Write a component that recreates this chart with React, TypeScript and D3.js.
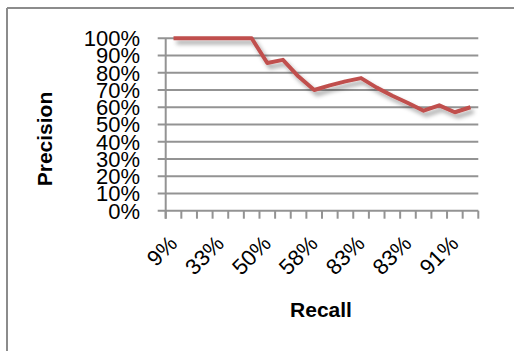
import React from "react";
import * as d3 from "d3";

const recallLabels = ["9%","17%","25%","33%","42%","50%","50%","58%","58%","58%","67%","75%","83%","83%","83%","83%","83%","91%","91%","100%"];
const precision = [1,1,1,1,1,1,0.857,0.875,0.778,0.70,0.727,0.75,0.769,0.714,0.667,0.625,0.58,0.611,0.571,0.60];
const yTicks = [0,0.1,0.2,0.3,0.4,0.5,0.6,0.7,0.8,0.9,1.0];
const labelEvery = 3;

const W = 514, H = 351;
const left = 165.7, right = 478.3, top = 38.3, bottom = 210.7;
const font = "'Liberation Sans', Arial, sans-serif";
const gridColor = "#939393";

export default function App() {
  const x = d3.scaleBand<number>().domain(d3.range(recallLabels.length)).range([left, right]).padding(0);
  const y = d3.scaleLinear().domain([0, 1]).range([bottom, top]);
  const cx = (i: number) => (x(i) as number) + x.bandwidth() / 2;
  const line = d3.line<number>().x((_, i) => cx(i)).y((d) => y(d)).curve(d3.curveLinear);
  const boundaries = d3.range(recallLabels.length + 1).map((i) => left + i * x.bandwidth());
  const fmt = d3.format(".0%");

  return (
    <svg width={W} height={H} style={{ position: "absolute", left: 0, top: 0, background: "#fff" }}>
      <defs>
        <filter id="sh" x="-10%" y="-20%" width="130%" height="150%">
          <feGaussianBlur in="SourceAlpha" stdDeviation="2.2" result="b" />
          <feOffset in="b" dx="3" dy="4" result="o" />
          <feFlood floodColor="#000" floodOpacity="0.35" />
          <feComposite in2="o" operator="in" result="s" />
          <feMerge>
            <feMergeNode in="s" />
            <feMergeNode in="SourceGraphic" />
          </feMerge>
        </filter>
      </defs>
      {/* chart border (top & left visible) */}
      <line x1={7} y1={8} x2={W} y2={8} stroke="#8c8c8c" strokeWidth={2} />
      <line x1={7} y1={8} x2={7} y2={H} stroke="#8c8c8c" strokeWidth={2} />

      {/* gridlines */}
      {yTicks.map((t) => (
        <line key={"g" + t} x1={left - 8} x2={right} y1={y(t)} y2={y(t)} stroke={gridColor} strokeWidth={2} />
      ))}
      {/* y axis */}
      <line x1={left} x2={left} y1={top} y2={bottom + 8} stroke={gridColor} strokeWidth={2} />
      {/* x ticks */}
      {boundaries.map((b, i) => (
        <line key={"t" + i} x1={b} x2={b} y1={bottom} y2={bottom + 8} stroke={gridColor} strokeWidth={2} />
      ))}

      {/* y labels */}
      {yTicks.map((t) => (
        <text key={"yl" + t} x={140} y={y(t) + 7.9} textAnchor="end" fontFamily={font} fontSize={22} fill="#000">
          {fmt(t)}
        </text>
      ))}

      {/* x labels */}
      {recallLabels.map((l, i) =>
        i % labelEvery === 0 ? (
          <text key={"xl" + i} transform={`translate(${cx(i) + 5},245) rotate(-45)`} textAnchor="end" fontFamily={font} fontSize={22} fill="#000">
            {l}
          </text>
        ) : null
      )}

      {/* series */}
      <path d={line(precision) || ""} fill="none" stroke="#C0504D" strokeWidth={4} strokeLinejoin="round" strokeLinecap="butt" filter="url(#sh)" />

      {/* axis titles */}
      <text transform="translate(52,139) rotate(-90)" textAnchor="middle" fontFamily={font} fontWeight="bold" fontSize={21} fill="#000">
        Precision
      </text>
      <text x={321} y={316.5} textAnchor="middle" fontFamily={font} fontWeight="bold" fontSize={21} fill="#000">
        Recall
      </text>
    </svg>
  );
}
